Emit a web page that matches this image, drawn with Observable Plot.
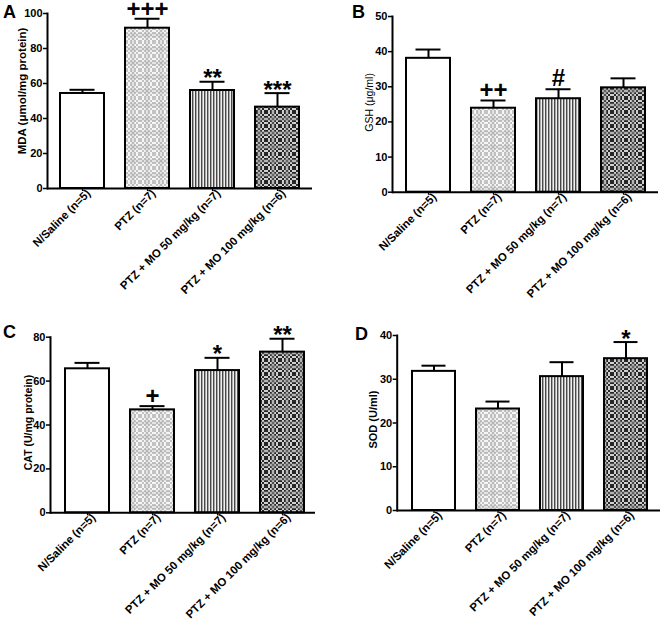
<!DOCTYPE html>
<html><head><meta charset="utf-8">
<script src="https://cdn.jsdelivr.net/npm/d3@7"></script>
<script src="https://cdn.jsdelivr.net/npm/@observablehq/plot@0.6"></script>
<style>
body{margin:0;background:#fff;font-family:"Liberation Sans",Arial,sans-serif;}
#wrap{position:relative;width:664px;height:623px;overflow:hidden;background:#fff}
.panel{position:absolute}
.panel svg{overflow:visible}
.letter{position:absolute;font-weight:bold;font-size:18px;line-height:1;font-family:"Liberation Sans",Arial,sans-serif}
</style></head>
<body>
<svg width="0" height="0" style="position:absolute">
<defs>
  <pattern id="chkLight" width="4" height="4" patternUnits="userSpaceOnUse">
    <rect width="4" height="4" fill="#f6f6f6"/>
    <rect width="2" height="2" fill="#c2c2c2"/>
    <rect x="2" y="2" width="2" height="2" fill="#c2c2c2"/>
  </pattern>
  <pattern id="patPTZ" width="14" height="14" patternUnits="userSpaceOnUse">
    <rect width="14" height="14" fill="url(#chkLight)"/>
    <rect y="5" width="14" height="4" fill="#999" opacity="0.2"/>
    <rect x="5" width="4" height="14" fill="#999" opacity="0.2"/>
  </pattern>
  <pattern id="patMO50" width="3" height="3" patternUnits="userSpaceOnUse">
    <rect width="3" height="3" fill="#f0f0f0"/>
    <rect width="1.2" height="3" fill="#484848"/>
    <rect x="1.2" width="0.8" height="3" fill="#a0a0a0"/>
  </pattern>
  <pattern id="chkDark" width="4" height="4" patternUnits="userSpaceOnUse">
    <rect width="4" height="4" fill="#d0d0d0"/>
    <rect width="2" height="2" fill="#262626"/>
    <rect x="2" y="2" width="2" height="2" fill="#262626"/>
  </pattern>
  <pattern id="patMO100" width="14" height="14" patternUnits="userSpaceOnUse">
    <rect width="14" height="14" fill="url(#chkDark)"/>
    <rect y="5" width="14" height="4" fill="#888" opacity="0.4"/>
    <rect x="5" width="4" height="14" fill="#888" opacity="0.4"/>
  </pattern>
</defs>
</svg>
<div id="wrap"></div>
<script>
// ---------- data ----------
const groups = ["N/Saline (n=5)", "PTZ (n=7)", "PTZ + MO 50 mg/kg (n=7)", "PTZ + MO 100 mg/kg (n=6)"];

const mdaMean = [54.3, 91.6, 56.0, 46.5];
const mdaSem  = [2.1, 5.4, 5.0, 8.0];
const mdaSig  = ["", "+++", "**", "***"];

const gshMean = [38.1, 23.9, 26.6, 29.7];
const gshSem  = [2.5, 2.2, 2.7, 2.7];
const gshSig  = ["", "++", "#", ""];

const catMean = [65.6, 46.9, 64.8, 73.2];
const catSem  = [2.7, 1.7, 5.8, 6.1];
const catSig  = ["", "+", "*", "**"];

const sodMean = [31.8, 23.2, 30.6, 34.7];
const sodSem  = [1.3, 1.7, 3.3, 3.8];
const sodSig  = ["", "", "", "*"];

const mdaTicks = [0, 20, 40, 60, 80, 100];
const gshTicks = [0, 10, 20, 30, 40, 50];
const catTicks = [0, 20, 40, 60, 80];
const sodTicks = [0, 10, 20, 30, 40];

const yLabels = ["MDA (\u03bcmol/mg protein)", "GSH (\u03bcg/ml)", "CAT (U/mg protein)", "SOD (U/ml)"];
const panelLetters = ["A", "B", "C", "D"];

// ---------- styles ----------
const groupFill = ["white", "url(#patPTZ)", "url(#patMO50)", "url(#patMO100)"];

const panels = [
  {mean: mdaMean, sem: mdaSem, sig: mdaSig, ticks: mdaTicks, label: yLabels[0], letter: panelLetters[0],
   left: 0, top: 0, h: 320, ml: 47, mr: 20, mt: 13, mb: 132, align: 0.5,
   lab: {dx: -25, dy: -10, fs: 11.5, fw: "bold"}, letterPos: [3, 3]},
  {mean: gshMean, sem: gshSem, sig: gshSig, ticks: gshTicks, label: yLabels[1], letter: panelLetters[1],
   left: 332, top: 0, h: 320, ml: 60, mr: 6, mt: 16, mb: 128.3, align: 0.5,
   lab: {dx: -23, dy: -2, fs: 10.5, fw: "normal"}, letterPos: [352, 3]},
  {mean: catMean, sem: catSem, sig: catSig, ticks: catTicks, label: yLabels[2], letter: panelLetters[2],
   left: 0, top: 318, h: 305, ml: 50, mr: 17, mt: 18.7, mb: 110.7, align: 0.57,
   lab: {dx: -22, dy: -2.5, fs: 10.5, fw: "bold"}, letterPos: [3, 323]},
  {mean: sodMean, sem: sodSem, sig: sodSig, ticks: sodTicks, label: yLabels[3], letter: panelLetters[3],
   left: 332, top: 318, h: 305, ml: 64.7, mr: 4, mt: 17, mb: 113, align: 0.55,
   lab: {dx: -24, dy: -3.5, fs: 11, fw: "bold"}, letterPos: [355, 324.5]}
];

const wrap = document.getElementById("wrap");

for (const p of panels) {
  const data = groups.map((g, i) => ({group: g, mean: p.mean[i], sem: p.sem[i], sig: p.sig[i], fill: groupFill[i]}));
  const upper = d => d.mean + d.sem;
  const ymax = d3.max(p.ticks);
  const chart = Plot.plot({
    width: 332, height: p.h,
    marginLeft: p.ml, marginRight: p.mr, marginTop: p.mt, marginBottom: p.mb,
    style: {fontFamily: "'Liberation Sans', Arial, sans-serif", fontWeight: "bold", fontSize: "11px", background: "transparent", color: "black"},
    x: {domain: groups, paddingInner: 0.327, paddingOuter: 0.2, align: p.align, axis: null},
    y: {domain: [0, ymax], axis: null},
    color: {type: "identity"},
    marks: [
      Plot.barY(data, {x: "group", y: "mean", fill: "fill", stroke: "black", strokeWidth: 2}),
      Plot.ruleX(data, {x: "group", y1: "mean", y2: upper, stroke: "black", strokeWidth: 2}),
      Plot.tickY(data, {x: "group", y: upper, stroke: "black", strokeWidth: 2, insetLeft: 9.5, insetRight: 9.5}),
      Plot.text(data.filter(d => d.sig && d.sig.includes("*")), {x: "group", y: upper, text: "sig", lineAnchor: "bottom", fontSize: 24, fontWeight: "bold", dy: 4.5}),
      Plot.text(data.filter(d => d.sig && d.sig.includes("+")), {x: "group", y: upper, text: "sig", lineAnchor: "bottom", fontSize: 24, fontWeight: "bold", dy: -2}),
      Plot.text(data.filter(d => d.sig && d.sig.includes("#")), {x: "group", y: upper, text: "sig", lineAnchor: "bottom", fontSize: 24, fontWeight: "bold", dy: -3.5}),
      Plot.ruleY([0], {stroke: "black", strokeWidth: 2}),
      Plot.frame({anchor: "left", stroke: "black", strokeWidth: 2}),
      Plot.axisY({ticks: p.ticks, tickSize: 4, tickPadding: 1, label: null, fontSize: 11, fontWeight: "bold", strokeWidth: 1.5}),
      Plot.axisX({tickSize: 3, tickFormat: () => "", label: null, strokeWidth: 1.2}),
      Plot.axisX({tickSize: 0, tickRotate: -45, tickPadding: 3, dx: 6, label: null, fontSize: 11.4, fontWeight: "bold"}),
      Plot.text([p.label], {frameAnchor: "left", textAnchor: "middle", lineAnchor: "middle", text: d => d, rotate: -90, dx: p.lab.dx, dy: p.lab.dy, fontSize: p.lab.fs, fontWeight: p.lab.fw})
    ]
  });
  const div = document.createElement("div");
  div.className = "panel";
  div.style.left = p.left + "px";
  div.style.top = p.top + "px";
  div.appendChild(chart);
  wrap.appendChild(div);

  const L = document.createElement("div");
  L.className = "letter";
  L.textContent = p.letter;
  L.style.left = p.letterPos[0] + "px";
  L.style.top = p.letterPos[1] + "px";
  wrap.appendChild(L);
}
</script>
</body></html>
